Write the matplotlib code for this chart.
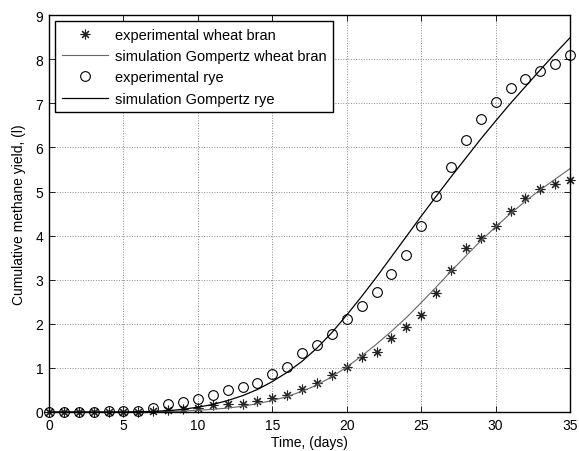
import matplotlib
matplotlib.use("Agg")
import matplotlib.pyplot as plt

plt.rcParams['font.family'] = ['Liberation Sans', 'DejaVu Sans']

days = list(range(36))

# experimental points
wheat_exp = [0.0, 0.0, 0.0, 0.0, 0.01, 0.01, 0.01, 0.02, 0.04, 0.06,
             0.10, 0.15, 0.17, 0.17, 0.24, 0.31, 0.38, 0.52, 0.66, 0.85,
             1.01, 1.24, 1.36, 1.67, 1.93, 2.20, 2.69, 3.21, 3.72, 3.94,
             4.22, 4.55, 4.86, 5.05, 5.18, 5.26]
rye_exp = [0.0, 0.0, 0.0, 0.0, 0.02, 0.03, 0.03, 0.09, 0.18, 0.23,
           0.30, 0.39, 0.50, 0.57, 0.66, 0.87, 1.03, 1.33, 1.53, 1.77,
           2.10, 2.41, 2.72, 3.14, 3.56, 4.22, 4.89, 5.56, 6.17, 6.64,
           7.02, 7.34, 7.55, 7.73, 7.89, 8.09]

# simulated Gompertz curves
wheat_sim = [0.0, 0.0, 0.0, 0.0, 0.0, 0.0, 0.0, 0.0, 0.01, 0.02,
             0.04, 0.06, 0.09, 0.13, 0.19, 0.26, 0.35, 0.47, 0.61, 0.80,
             1.02, 1.27, 1.54, 1.83, 2.14, 2.48, 2.83, 3.19, 3.54, 3.88,
             4.20, 4.50, 4.78, 5.04, 5.28, 5.52]
rye_sim = [0.0, 0.0, 0.0, 0.0, 0.0, 0.0, 0.005, 0.015, 0.03, 0.06,
           0.11, 0.17, 0.26, 0.37, 0.51, 0.69, 0.90, 1.15, 1.45, 1.80,
           2.20, 2.62, 3.06, 3.52, 3.98, 4.44, 4.89, 5.33, 5.76, 6.19,
           6.60, 7.00, 7.38, 7.76, 8.13, 8.49]

xticks = [0, 5, 10, 15, 20, 25, 30, 35]
yticks = list(range(10))

fig = plt.figure(figsize=(5.79, 4.52), dpi=100)
ax = fig.add_axes([0.0846, 0.0863, 0.9, 0.878])

ax.plot(days, wheat_exp, linestyle='none', marker=(8, 2, 0), markersize=7,
        markeredgecolor='#222222', markeredgewidth=0.8, clip_on=False,
        label='experimental wheat bran')
ax.plot(days, wheat_sim, color='#666666', linewidth=0.8,
        label='simulation Gompertz wheat bran')
ax.plot(days, rye_exp, linestyle='none', marker='o', markersize=7,
        markerfacecolor='none', markeredgecolor='black', markeredgewidth=0.8,
        clip_on=False, label='experimental rye')
ax.plot(days, rye_sim, color='black', linewidth=0.9,
        label='simulation Gompertz rye')

ax.set_xlim(0, 35)
ax.set_ylim(0, 9)
ax.set_xticks(xticks)
ax.set_yticks(yticks)
ax.tick_params(direction='in', length=4, width=0.6, top=True, right=True,
               labelsize=10, pad=4)
ax.grid(True, linestyle=':', color='#888888', linewidth=0.7)
for s in ax.spines.values():
    s.set_linewidth(1.0)

ax.set_xlabel('Time, (days)', fontsize=10)
ax.set_ylabel('Cumulative methane yield, (l)', fontsize=10)
ax.xaxis.set_label_coords(0.5, -0.076)
ax.yaxis.set_label_coords(-0.058, 0.5)
ax.xaxis.label.set_va('center')
ax.yaxis.label.set_va('center')

leg = ax.legend(loc='upper left', fontsize=10.5, fancybox=False,
                edgecolor='black', framealpha=1, borderaxespad=0.42,
                handlelength=3.2, labelspacing=0.5, borderpad=0.45,
                handletextpad=0.45)
leg.get_frame().set_linewidth(1.0)

fig.savefig('out.png', dpi=100)
